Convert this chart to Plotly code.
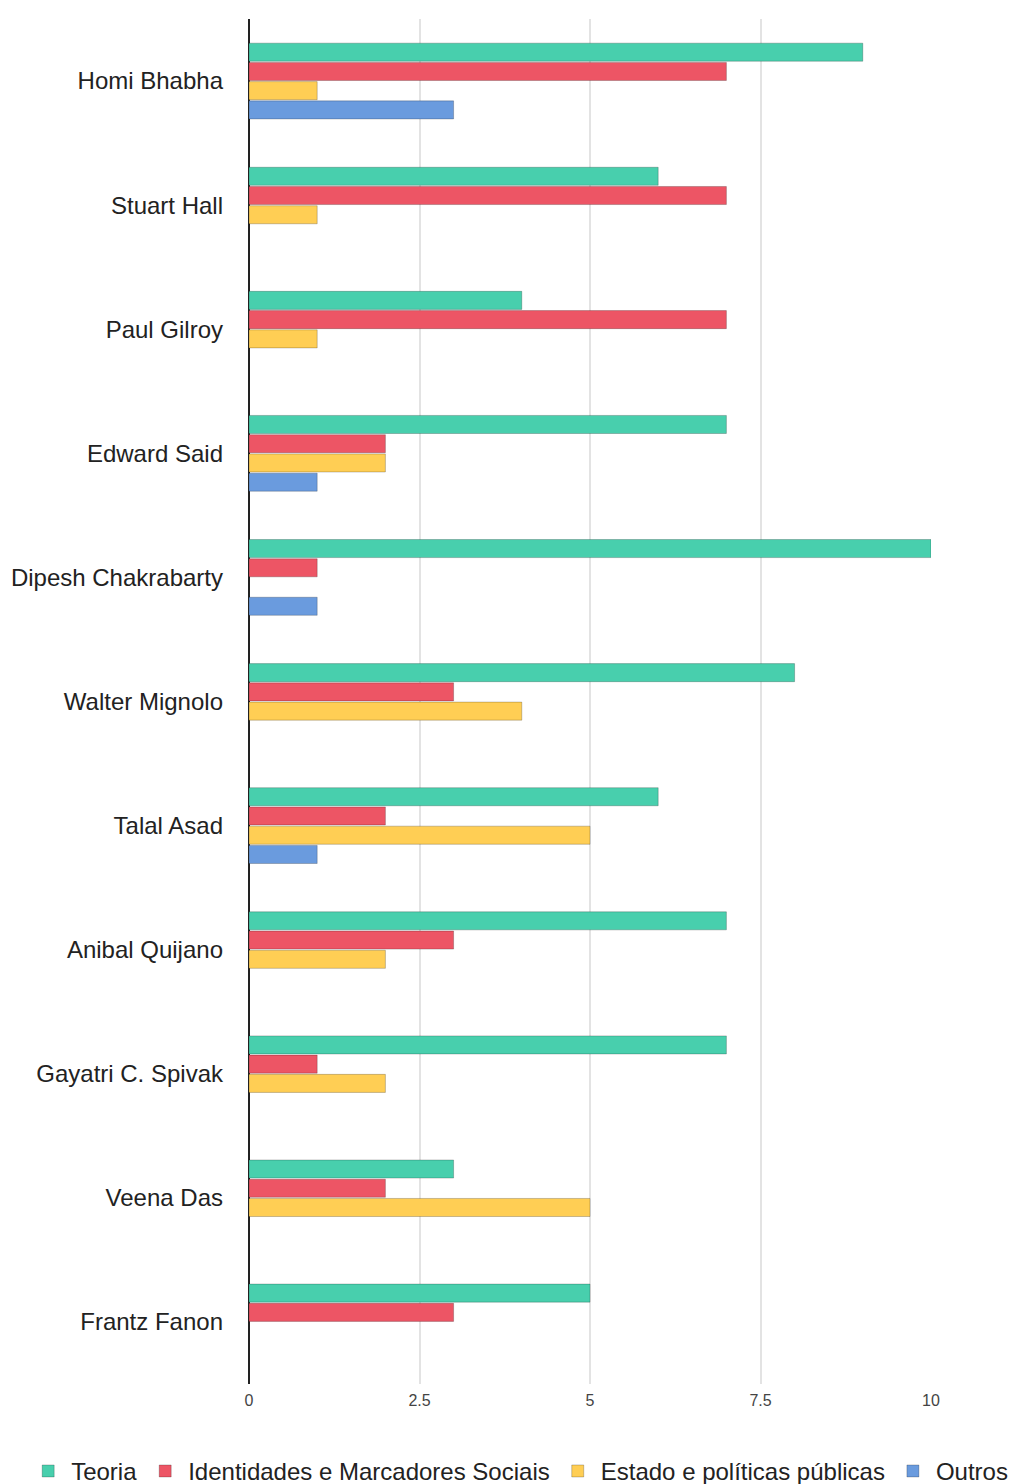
import plotly.graph_objects as go

# Authors (top to bottom) and count of works per theme
authors = [
    "Homi Bhabha", "Stuart Hall", "Paul Gilroy", "Edward Said",
    "Dipesh Chakrabarty", "Walter Mignolo", "Talal Asad", "Anibal Quijano",
    "Gayatri C. Spivak", "Veena Das", "Frantz Fanon",
]
teoria = [9, 6, 4, 7, 10, 8, 6, 7, 7, 3, 5]
identidades = [7, 7, 7, 2, 1, 3, 2, 3, 1, 2, 3]
estado = [1, 1, 1, 2, None, 4, 5, 2, 2, 5, None]
outros = [3, None, None, 1, 1, None, 1, None, None, None, None]

series = [
    ("Teoria", teoria, "#48CFAD"),
    ("Identidades e Marcadores Sociais", identidades, "#ED5565"),
    ("Estado e políticas públicas", estado, "#FFCE54"),
    ("Outros", outros, "#6A9BDE"),
]

W, H = 1016, 1484
fig = go.Figure()
for name, vals, color in series:
    fig.add_trace(go.Bar(
        y=authors, x=vals, name=name, orientation="h",
        marker=dict(color=color, line=dict(color="rgba(0,0,0,0.22)", width=1)),
    ))

# Full-width plot area so the one-row legend has room; the axis domain sets the bars' span
fig.update_layout(
    width=W, height=H,
    margin=dict(l=0, r=0, t=19, b=100, autoexpand=False),
    plot_bgcolor="white", paper_bgcolor="white",
    barmode="group", bargap=0.38, bargroupgap=0.06,
    font=dict(family="Liberation Sans, Arial, sans-serif", color="#222222"),
    legend=dict(
        orientation="h", x=0.511, xanchor="center",
        y=-0.064, yanchor="middle",
        font=dict(size=24, color="#222222"), traceorder="normal",
        itemwidth=36,
    ),
)
fig.update_xaxes(
    domain=[249 / W, 931 / W],
    range=[0, 10], tickvals=[0, 2.5, 5, 7.5, 10], ticktext=["0", "2.5", "5", "7.5", "10"],
    showgrid=True, gridcolor="#e3e3e3", gridwidth=2,
    zeroline=True, zerolinecolor="#222222", zerolinewidth=2,
    tickfont=dict(size=16, color="#444444"), ticklabelstandoff=5,
)
fig.update_yaxes(
    autorange="reversed", showgrid=False,
    tickfont=dict(size=24, color="#222222"), ticklabelstandoff=25,
)

fig.write_html("out.html")
